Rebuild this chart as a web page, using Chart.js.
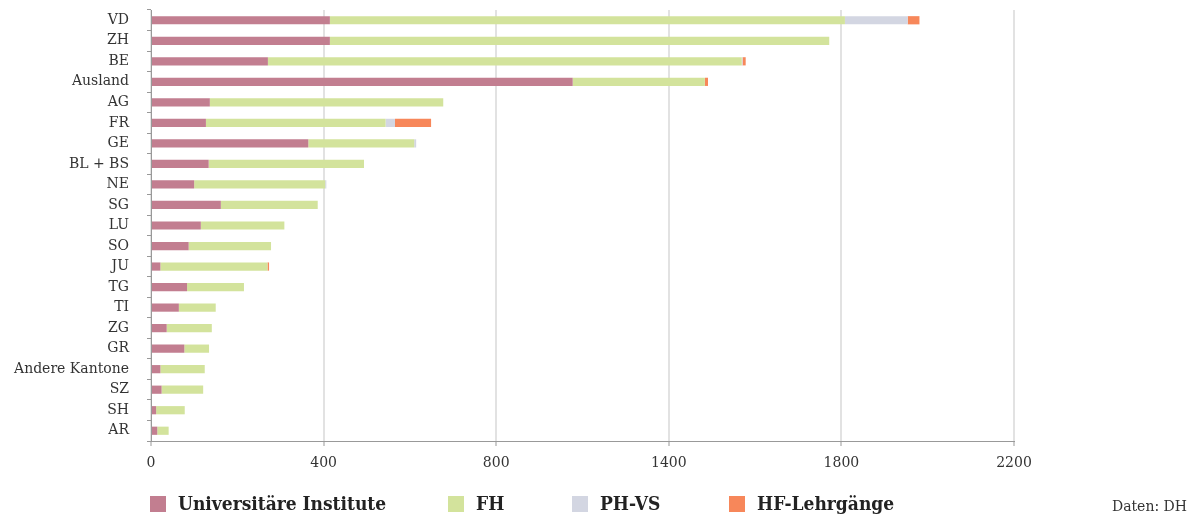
<!DOCTYPE html>
<html><head><meta charset="utf-8">
<script src="https://cdn.jsdelivr.net/npm/chart.js@4/dist/chart.umd.min.js"></script>
<style>html,body{margin:0;padding:0;background:#fff}#wrap{position:relative;width:1189px;height:517px}</style>
</head><body><div id="wrap"><canvas id="c" width="1189" height="517"></canvas></div>
<script>
const categories = ['VD','ZH','BE','Ausland','AG','FR','GE','BL + BS','NE','SG','LU','SO','JU','TG','TI','ZG','GR','Andere Kantone','SZ','SH','AR'];
const uniValues = [456,456,298,1075,150,140,401,147,110,178,127,96,24,92,71,40,85,24,27,13,16];
const fhValues  = [1313,1273,1208,337,595,458,270,396,334,247,213,210,273,145,94,115,63,113,106,73,29];
const phValues  = [160,0,2,0,0,24,5,0,3,0,0,0,0,0,0,0,0,0,0,0,0];
const hfValues  = [30,0,8,8,0,92,0,0,0,0,0,0,4,0,0,0,0,0,0,0,0];
const seriesNames = ['Universitäre Institute','FH','PH-VS','HF-Lehrgänge'];
const xTickValues = [0,440,880,1320,1760,2200];
const xTickLabels = ['0','400','800','1400','1800','2200'];
const sourceText = 'Daten: DH';

const FONT = "'DejaVu Serif', serif";
const colors = ['#c27e90','#d3e39c','#d3d6e2','#f7875a'];

const legendPlugin = {
  id:'customLegend',
  afterDraw(chart, args, opts){
    const ctx = chart.ctx;
    ctx.save();
    ctx.textBaseline='middle'; ctx.textAlign='left';
    chart.data.datasets.forEach((ds,i)=>{
      const x = opts.xs[i];
      ctx.fillStyle = ds.backgroundColor;
      ctx.fillRect(x, opts.y-8, 16, 16);
      ctx.fillStyle = '#222';
      ctx.font = opts.font;
      ctx.fillText(ds.label, x+28, opts.y+1);
    });
    ctx.font = opts.srcFont;
    ctx.textAlign='right';
    ctx.fillStyle='#333';
    ctx.fillText(sourceText, 1187, opts.y+3);
    ctx.restore();
  }
};

const sets = [uniValues, fhValues, phValues, hfValues];
new Chart(document.getElementById('c'), {
  type:'bar',
  data:{
    labels: categories,
    datasets: sets.map((d,i)=>({
      label: seriesNames[i], data: d, backgroundColor: colors[i],
      borderWidth:0, barPercentage:0.4, categoryPercentage:1
    }))
  },
  options:{
    responsive:false, animation:false, indexAxis:'y',
    layout:{padding:{top:10,right:175,bottom:46,left:0}},
    plugins:{
      legend:{display:false}, tooltip:{enabled:false},
      customLegend:{xs:[150,448,572,729], y:504, font:"bold 19px 'DejaVu Serif Condensed', 'DejaVu Serif', serif", srcFont:"14px "+FONT}
    },
    scales:{
      x:{
        stacked:true, min:0, max:2200,
        afterBuildTicks:(s)=>{ s.ticks = xTickValues.map(v=>({value:v})); },
        afterFit:(s)=>{ s.height = 30; },
        ticks:{ callback:(v,i)=>xTickLabels[i], font:{family:FONT,size:14}, color:'#333', padding:9, maxRotation:0 },
        grid:{ color:'#e2e2e2', lineWidth:2, tickColor:'#999', tickLength:5, tickWidth:1 },
        border:{ color:'#999', width:1 }
      },
      y:{
        stacked:true,
        afterFit:(s)=>{ s.width = 151; s.paddingTop = 0; s.paddingBottom = 0; },
        ticks:{ font:{family:FONT,size:14}, color:'#333', padding:18, autoSkip:false },
        grid:{ drawOnChartArea:false, drawTicks:true, tickLength:4, color:'#999', offset:true },
        border:{ color:'#999', width:1 }
      }
    }
  },
  plugins:[legendPlugin]
});
</script></body></html>
